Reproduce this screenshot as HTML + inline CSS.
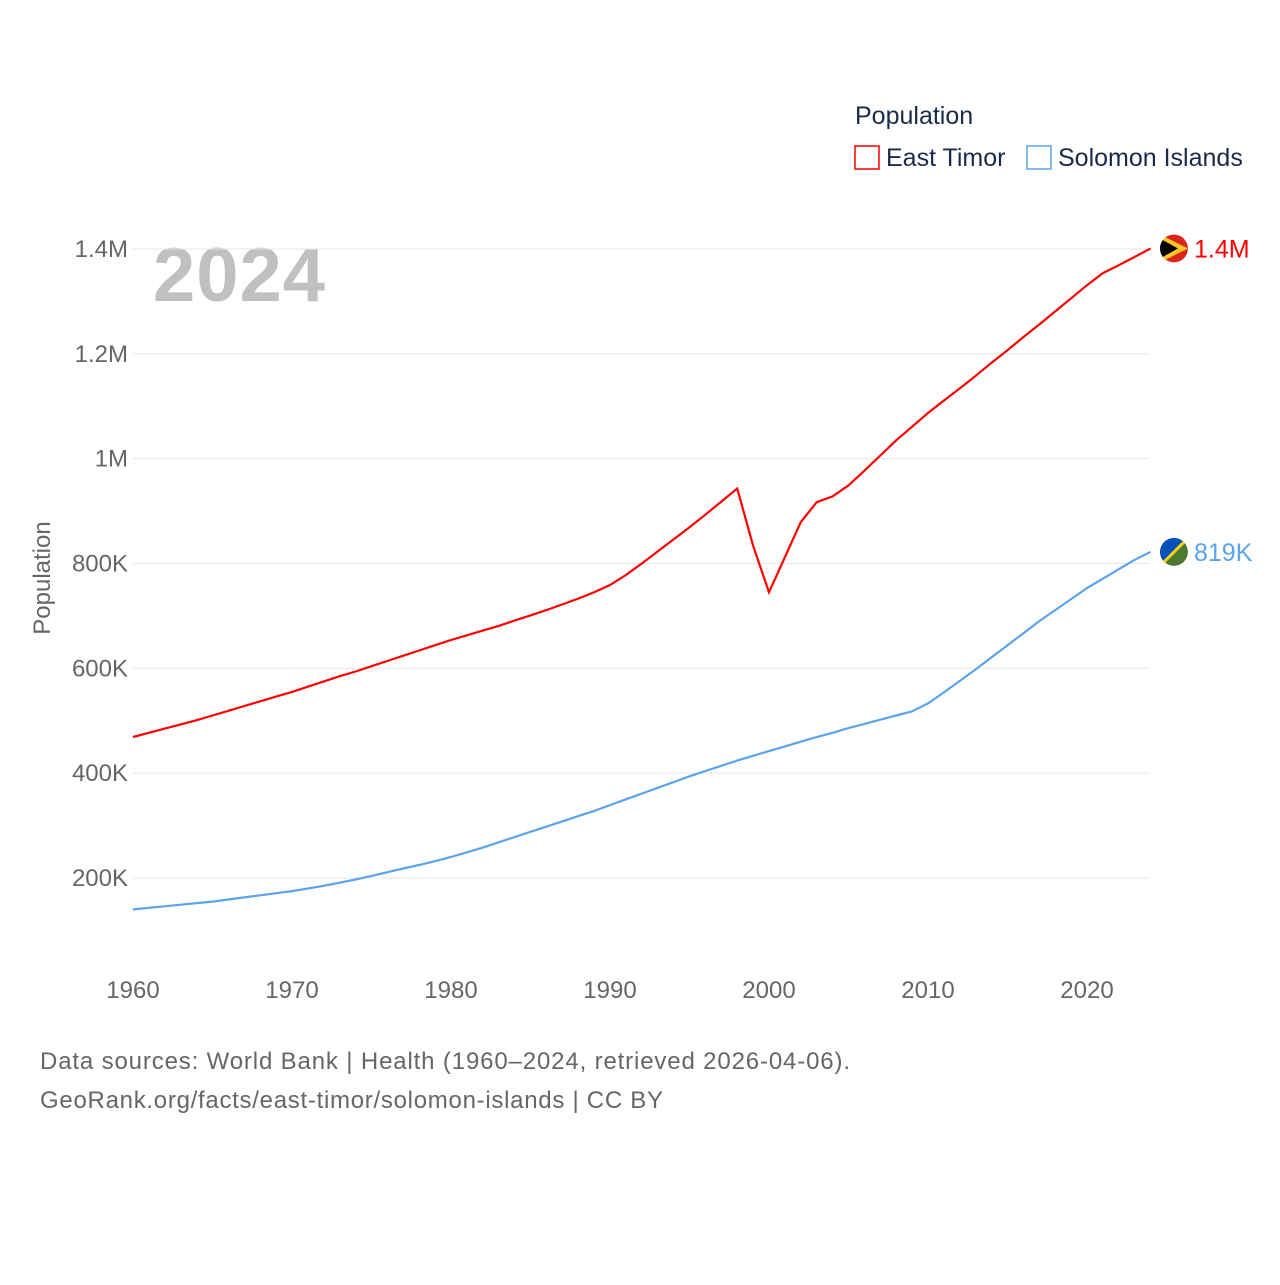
<!DOCTYPE html>
<html><head><meta charset="utf-8">
<style>
body{margin:0;background:#fff;font-family:"Liberation Sans",sans-serif;}
svg text{font-family:"Liberation Sans",sans-serif;}
</style></head>
<body>
<svg id="chart" width="1280" height="1280">
<defs id="defs"></defs>
<text x="855" y="124" font-size="25" fill="#1a2b4a">Population</text>
<rect x="855" y="146" width="24" height="23" fill="none" stroke="#f00" stroke-width="1.5"/>
<text x="886" y="166" font-size="25" fill="#1a2b4a">East Timor</text>
<rect x="1027" y="146" width="24" height="23" fill="none" stroke="#5ba3ea" stroke-width="1.5"/>
<text x="1058" y="166" font-size="25" fill="#1a2b4a">Solomon Islands</text>
<text x="153" y="301" font-size="76" font-weight="bold" fill="#c0c0c0" textLength="172">2024</text>
<text transform="translate(50,578) rotate(-90)" text-anchor="middle" font-size="24" fill="#666">Population</text>
<g id="grid"></g><g id="lines"></g>
<text x="40" y="1069" font-size="24" fill="#666" textLength="810">Data sources: World Bank | Health (1960–2024, retrieved 2026-04-06).</text>
<text x="40" y="1108" font-size="24" fill="#666" textLength="623">GeoRank.org/facts/east-timor/solomon-islands | CC BY</text>
</svg>
<script>
const years=[];for(let y=1960;y<=2024;y++)years.push(y);
const eastTimor=[469,477,485,493,501,510,519,528,537,546,555,565,575,585,594,604,614,624,634,644,654,663,672,681,691,701,711,722,733,745,759,778,800,823,846,869,893,918,943,834,745,812,879,917,928,949,977,1006,1035,1061,1087,1111,1134,1158,1183,1207,1232,1256,1281,1306,1331,1354,1369,1385,1401];
const solomon=[140,143,146,149,152,155,159,163,167,171,175,180,185,191,197,204,211,218,225,232,240,249,258,268,278,288,298,308,318,328,339,350,361,372,383,394,404,414,424,433,442,451,460,469,477,486,494,502,510,518,533,554,576,598,621,644,667,690,711,732,753,771,789,807,822];
const yTicks=[200000,400000,600000,800000,1000000,1200000,1400000];
const yTickLabels=["200K","400K","600K","800K","1M","1.2M","1.4M"];
const xTicks=[1960,1970,1980,1990,2000,2010,2020];
const X=y=>133+(y-1960)*15.9;
const Y=v=>982.8-v/200000*104.83;
const NS="http://www.w3.org/2000/svg";
const grid=document.getElementById('grid'),lines=document.getElementById('lines'),defs=document.getElementById('defs');
function mk(tag,attrs,parent){const e=document.createElementNS(NS,tag);for(const k in attrs)e.setAttribute(k,attrs[k]);parent.appendChild(e);return e;}
yTicks.forEach((v,i)=>{
 const l=mk('line',{x1:133,x2:1150,y1:Y(v),y2:Y(v),stroke:'#e6e6e6','stroke-width':1},grid);
 
 
 const t=mk('text',{x:128,y:Y(v)+8,'text-anchor':'end','font-size':24,fill:'#666'},grid);
 t.textContent=yTickLabels[i];
 
 
});
xTicks.forEach(y=>{
 const t=mk('text',{x:X(y),y:998,'text-anchor':'middle','font-size':24,fill:'#666'},grid);
 t.textContent=y;
 
 
});
function series(vals,color,name,label,flag){
 const d=vals.map((v,i)=>(i?'L':'M')+X(years[i]).toFixed(1)+','+Y(v*1000).toFixed(1)).join('');
 const p=mk('path',{d:d,fill:'none',stroke:color,'stroke-width':2.2},lines);
 
 
 const last=vals[vals.length-1],cy=Y(last*1000);
 const cp=mk('clipPath',{id:'clip-'+name},defs);
 mk('circle',{cx:1174,cy:cy,r:14},cp);
 const g=mk('g',{'clip-path':'url(#clip-'+name+')'},lines);
 
 
 if(flag==='tl'){
  mk('circle',{cx:1174,cy:cy,r:14,fill:'#dc241f'},g);
  mk('path',{d:`M1160,${cy-14}L1188,${cy}L1160,${cy+14}Z`,fill:'#ffc726'},g);
  mk('path',{d:`M1160,${cy-10}L1178,${cy}L1160,${cy+10}Z`,fill:'#000'},g);
 }else{
  mk('circle',{cx:1174,cy:cy,r:14,fill:'#4d7a32'},g);
  mk('path',{d:`M1160,${cy+14}L1160,${cy-14}L1188,${cy-14}Z`,fill:'#0051ba'},g);
  mk('line',{x1:1160,y1:cy+14,x2:1188,y2:cy-14,stroke:'#fcd116','stroke-width':3},g);
 }
 const t=mk('text',{x:1194,y:cy+9,'font-size':25,fill:color},lines);
 t.textContent=label;
 
 
}
series(eastTimor,'#ff0000','east-timor','1.4M','tl');
series(solomon,'#5ba3ea','solomon-islands','819K','sb');
</script>
</body></html>
